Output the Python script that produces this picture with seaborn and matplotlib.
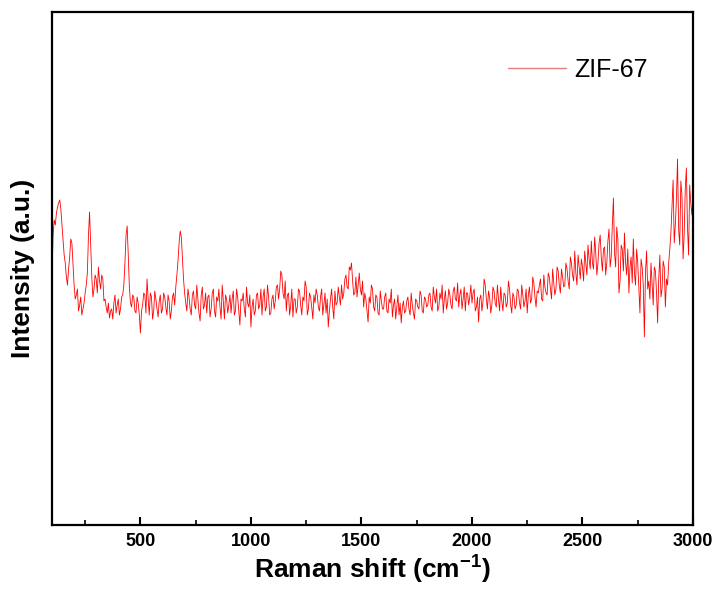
import matplotlib
matplotlib.use("Agg")
import matplotlib.pyplot as plt
import seaborn as sns
import numpy as np
import pandas as pd
from matplotlib.ticker import MultipleLocator

# Raman shift grid (cm-1): main points every 10 cm-1 from 100 to 3000,
# plus the in-between points at 105, 115, ..., 2995
shift_start = 100
shift_step = 10

# Intensity (a.u.) at 100, 110, ..., 3000
intensity = [
    250, 305, 312, 322, 316, 285, 262, 240, 268, 282,   # 100-190
    240, 230, 214, 228, 216, 232, 252, 313, 248, 236,   # 200-290
    246, 258, 236, 246, 226, 212, 207, 216, 222, 212,   # 300-390
    226, 216, 230, 262, 299, 238, 218, 228, 212, 222,   # 400-490
    192, 220, 230, 246, 210, 228, 214, 226, 208, 230,   # 500-590
    216, 228, 210, 224, 214, 232, 238, 264, 294, 268,   # 600-690
    232, 214, 228, 210, 234, 216, 226, 204, 238, 220,   # 700-790
    212, 230, 216, 236, 208, 224, 218, 240, 206, 226,   # 800-890
    220, 212, 234, 214, 228, 200, 224, 216, 238, 218,   # 900-990
    198, 226, 214, 232, 220, 210, 236, 218, 228, 212,   # 1000-1090
    230, 224, 240, 236, 250, 226, 214, 232, 220, 208,   # 1100-1190
    226, 218, 234, 210, 224, 238, 216, 228, 206, 222,   # 1200-1290
    230, 214, 236, 220, 212, 198, 226, 218, 234, 222,   # 1300-1390
    228, 240, 232, 250, 236, 255, 244, 232, 228, 252,   # 1400-1490
    230, 218, 226, 203, 222, 236, 214, 228, 210, 224,   # 1500-1590
    216, 232, 212, 222, 208, 226, 218, 210, 202, 224,   # 1600-1690
    214, 228, 210, 220, 206, 224, 216, 230, 212, 226,   # 1700-1790
    220, 232, 214, 228, 236, 218, 226, 212, 234, 222,   # 1800-1890
    230, 216, 238, 224, 218, 236, 226, 214, 232, 228,   # 1900-1990
    222, 236, 218, 203, 230, 224, 240, 216, 228, 220,   # 2000-2090
    234, 218, 226, 238, 214, 230, 222, 236, 212, 228,   # 2100-2190
    220, 234, 216, 230, 224, 212, 238, 226, 242, 218,   # 2200-2290
    232, 246, 224, 238, 230, 248, 226, 242, 236, 254,   # 2300-2390
    232, 248, 240, 256, 236, 262, 244, 252, 270, 246,   # 2400-2490
    258, 274, 250, 266, 284, 256, 272, 262, 290, 254,   # 2500-2590
    278, 262, 296, 268, 327, 258, 286, 244, 276, 292,   # 2600-2690
    250, 232, 268, 286, 240, 262, 212, 258, 188, 274,   # 2700-2790
    244, 262, 220, 254, 202, 270, 236, 258, 246, 262,   # 2800-2890
    292, 345, 300, 366, 280, 330, 290, 357, 270, 322,   # 2900-2990
    330,                                                # 3000
]

# Intensity (a.u.) at 105, 115, ..., 2995
intensity_half = [
    290, 300, 318, 325, 300, 270, 248, 256, 286, 262,   # 105-195
    226, 236, 220, 210, 222, 240, 290, 280, 228, 250,   # 205-295
    232, 244, 250, 224, 218, 222, 214, 206, 230, 220,   # 305-395
    210, 228, 240, 290, 270, 222, 230, 214, 228, 210,   # 405-495
    214, 232, 212, 226, 232, 206, 234, 216, 224, 212,   # 505-595
    232, 218, 230, 206, 228, 220, 250, 282, 288, 246,   # 605-695
    222, 236, 216, 230, 220, 240, 212, 230, 216, 232,   # 705-795
    228, 208, 232, 214, 228, 236, 206, 224, 230, 212,   # 805-895
    230, 226, 210, 236, 214, 226, 232, 208, 222, 230,   # 905-995
    218, 210, 230, 216, 236, 228, 214, 240, 210, 226,   # 1005-1095
    216, 238, 226, 254, 232, 244, 230, 210, 236, 226,   # 1105-1195
    212, 236, 220, 228, 244, 210, 232, 218, 230, 236,   # 1205-1295
    218, 228, 210, 232, 226, 214, 236, 206, 220, 238,   # 1305-1395
    220, 226, 246, 238, 258, 262, 230, 248, 240, 236,   # 1405-1495
    244, 232, 214, 228, 240, 218, 230, 212, 234, 216,   # 1505-1595
    228, 214, 226, 236, 220, 206, 230, 222, 218, 212,   # 1605-1695
    224, 216, 232, 212, 226, 218, 234, 214, 228, 218,   # 1705-1795
    230, 218, 238, 222, 214, 232, 240, 226, 216, 236,   # 1805-1895
    220, 234, 226, 242, 230, 216, 238, 232, 220, 240,   # 1905-1995
    232, 214, 228, 226, 214, 246, 226, 234, 212, 238,   # 2005-2095
    222, 240, 214, 224, 232, 218, 244, 220, 232, 216,   # 2105-2195
    236, 222, 240, 218, 236, 230, 222, 248, 228, 234,   # 2205-2295
    240, 226, 250, 232, 252, 236, 256, 230, 258, 240,   # 2305-2395
    256, 238, 262, 244, 268, 250, 274, 240, 258, 266,   # 2405-2495
    244, 262, 280, 256, 262, 288, 250, 282, 268, 276,   # 2505-2595
    250, 284, 258, 300, 272, 298, 232, 280, 254, 262,   # 2605-2695
    276, 258, 242, 252, 276, 236, 266, 240, 252, 236,   # 2705-2795
    226, 240, 258, 232, 246, 228, 264, 218, 240, 276,   # 2805-2895
    318, 282, 326, 296, 344, 266, 336, 298, 340, 310,   # 2905-2995
]

series_label = "ZIF-67"
x_major_ticks = [500, 1000, 1500, 2000, 2500, 3000]

raman_shift = [shift_start + shift_step * i for i in range(len(intensity))]
raman_shift_half = [shift_start + shift_step / 2 + shift_step * i
                    for i in range(len(intensity_half))]

sns.set_style("ticks")
plt.rcParams["font.family"] = ["Liberation Sans", "DejaVu Sans"]
plt.rcParams["mathtext.fontset"] = "custom"
plt.rcParams["mathtext.rm"] = "Liberation Sans"
plt.rcParams["mathtext.bf"] = "Liberation Sans:bold"
plt.rcParams["text.color"] = "black"
plt.rcParams["axes.labelcolor"] = "black"
plt.rcParams["xtick.color"] = "black"
plt.rcParams["ytick.color"] = "black"

df = pd.DataFrame({"shift": raman_shift + raman_shift_half,
                   "intensity": intensity + intensity_half}).sort_values("shift")

fig = plt.figure(figsize=(7.19, 5.91), dpi=100)
ax = fig.add_axes([52 / 719, 1 - 525 / 591, 641 / 719, 513 / 591])

sns.lineplot(data=df, x="shift", y="intensity", color="#ff0000", lw=0.6,
             label=series_label, ax=ax)

ax.set_xlim(100, 3000)
ax.set_ylim(0, 513)
ax.set_yticks([])
ax.set_xticks(x_major_ticks)
ax.xaxis.set_minor_locator(MultipleLocator(250))
ax.tick_params(axis="x", which="major", direction="in", length=6, width=1.5,
               labelsize=13, pad=6, top=False)
ax.tick_params(axis="x", which="minor", direction="in", length=3.5, width=1.2,
               top=False)
for lab in ax.get_xticklabels():
    lab.set_fontweight("bold")

for sp in ax.spines.values():
    sp.set_visible(True)
    sp.set_linewidth(1.6)
    sp.set_color("black")

ax.set_xlabel(r"Raman shift (cm$^{\mathbf{-1}}$)", fontsize=19,
              fontweight="bold", labelpad=1)
ax.set_ylabel("Intensity (a.u.)", fontsize=19, fontweight="bold", labelpad=12)

leg = ax.legend(loc="center left",
                bbox_to_anchor=((508 - 52) / 641, 1 - (70 - 12) / 513),
                frameon=False, fontsize=18, handlelength=2.3, handletextpad=0.35,
                borderpad=0, borderaxespad=0)
for line in leg.get_lines():
    line.set_linewidth(1.0)
    line.set_color("#e08080")
for t in leg.get_texts():
    t.set_color("black")

fig.savefig("out.png", dpi=100)
